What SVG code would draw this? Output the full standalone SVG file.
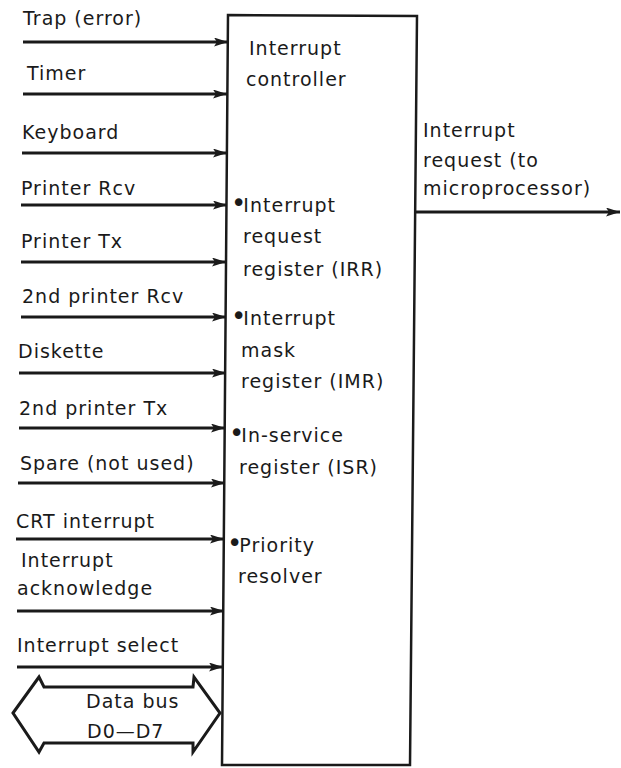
<svg xmlns="http://www.w3.org/2000/svg" width="621" height="768" viewBox="0 0 621 768">
<style>
text{font-family:"DejaVu Sans",sans-serif;font-size:19px;fill:#1a1a1a;letter-spacing:1px}
.d{font-size:26px;letter-spacing:-3px}
.c{stroke:#1a1a1a;stroke-width:3;fill:none}
.b{stroke:#1a1a1a;stroke-width:2.5;fill:#fff}
</style>
<defs>
<marker id="ah" markerUnits="userSpaceOnUse" markerWidth="16" markerHeight="10" refX="14" refY="4.5" orient="auto">
<path d="M0,0 L14,4.5 L0,9 L3,4.5 Z" fill="#1a1a1a"/>
</marker>
</defs>
<rect width="621" height="768" fill="#fff"/>
<g id="controller">
<polygon class="b" points="228,15 417,16 410,765 222,765"/>
<text x="249" y="55">Interrupt</text>
<text x="246" y="86">controller</text>
<text x="231" y="212"><tspan class="d">•</tspan>Interrupt</text>
<text x="243" y="243">request</text>
<text x="243" y="276">register (IRR)</text>
<text x="231" y="325"><tspan class="d">•</tspan>Interrupt</text>
<text x="241" y="357">mask</text>
<text x="241" y="388">register (IMR)</text>
<text x="229" y="442"><tspan class="d">•</tspan>In-service</text>
<text x="239" y="474">register (ISR)</text>
<text x="227" y="552"><tspan class="d">•</tspan>Priority</text>
<text x="238" y="583">resolver</text>
</g>
<g id="labels">
<text x="23" y="25">Trap (error)</text>
<text x="27" y="80">Timer</text>
<text x="22" y="139">Keyboard</text>
<text x="21" y="195">Printer Rcv</text>
<text x="21" y="248">Printer Tx</text>
<text x="22" y="303">2nd printer Rcv</text>
<text x="18" y="358">Diskette</text>
<text x="19" y="415">2nd printer Tx</text>
<text x="20" y="470">Spare (not used)</text>
<text x="16" y="528">CRT interrupt</text>
<text x="21" y="567">Interrupt</text>
<text x="17" y="595">acknowledge</text>
<text x="17" y="652">Interrupt select</text>
<text x="423" y="137">Interrupt</text>
<text x="423" y="167">request (to</text>
<text x="423" y="195">microprocessor)</text>
</g>
<g id="databus">
<path class="c" stroke-width="2.5" d="M13,713 L39,677 L44,687 L193,687 L194,677 L220,713 L193,752 L193,743 L44,743 L39,752 Z"/>
<text x="86" y="708">Data bus</text>
<text x="87" y="738">D0—D7</text>
</g>
<g id="connectors">
<line class="c" x1="23" y1="42" x2="228" y2="42" marker-end="url(#ah)"/>
<line class="c" x1="23" y1="94" x2="227" y2="94" marker-end="url(#ah)"/>
<line class="c" x1="22" y1="153" x2="227" y2="153" marker-end="url(#ah)"/>
<line class="c" x1="21" y1="205" x2="227" y2="205" marker-end="url(#ah)"/>
<line class="c" x1="21" y1="262" x2="226" y2="262" marker-end="url(#ah)"/>
<line class="c" x1="21" y1="317" x2="226" y2="317" marker-end="url(#ah)"/>
<line class="c" x1="19" y1="373" x2="226" y2="373" marker-end="url(#ah)"/>
<line class="c" x1="19" y1="428" x2="225" y2="428" marker-end="url(#ah)"/>
<line class="c" x1="18" y1="483" x2="225" y2="483" marker-end="url(#ah)"/>
<line class="c" x1="16" y1="539" x2="224" y2="539" marker-end="url(#ah)"/>
<line class="c" x1="17" y1="611" x2="224" y2="611" marker-end="url(#ah)"/>
<line class="c" x1="17" y1="667" x2="223" y2="667" marker-end="url(#ah)"/>
<line class="c" x1="416" y1="212" x2="620" y2="212" marker-end="url(#ah)"/>
</g>
</svg>
